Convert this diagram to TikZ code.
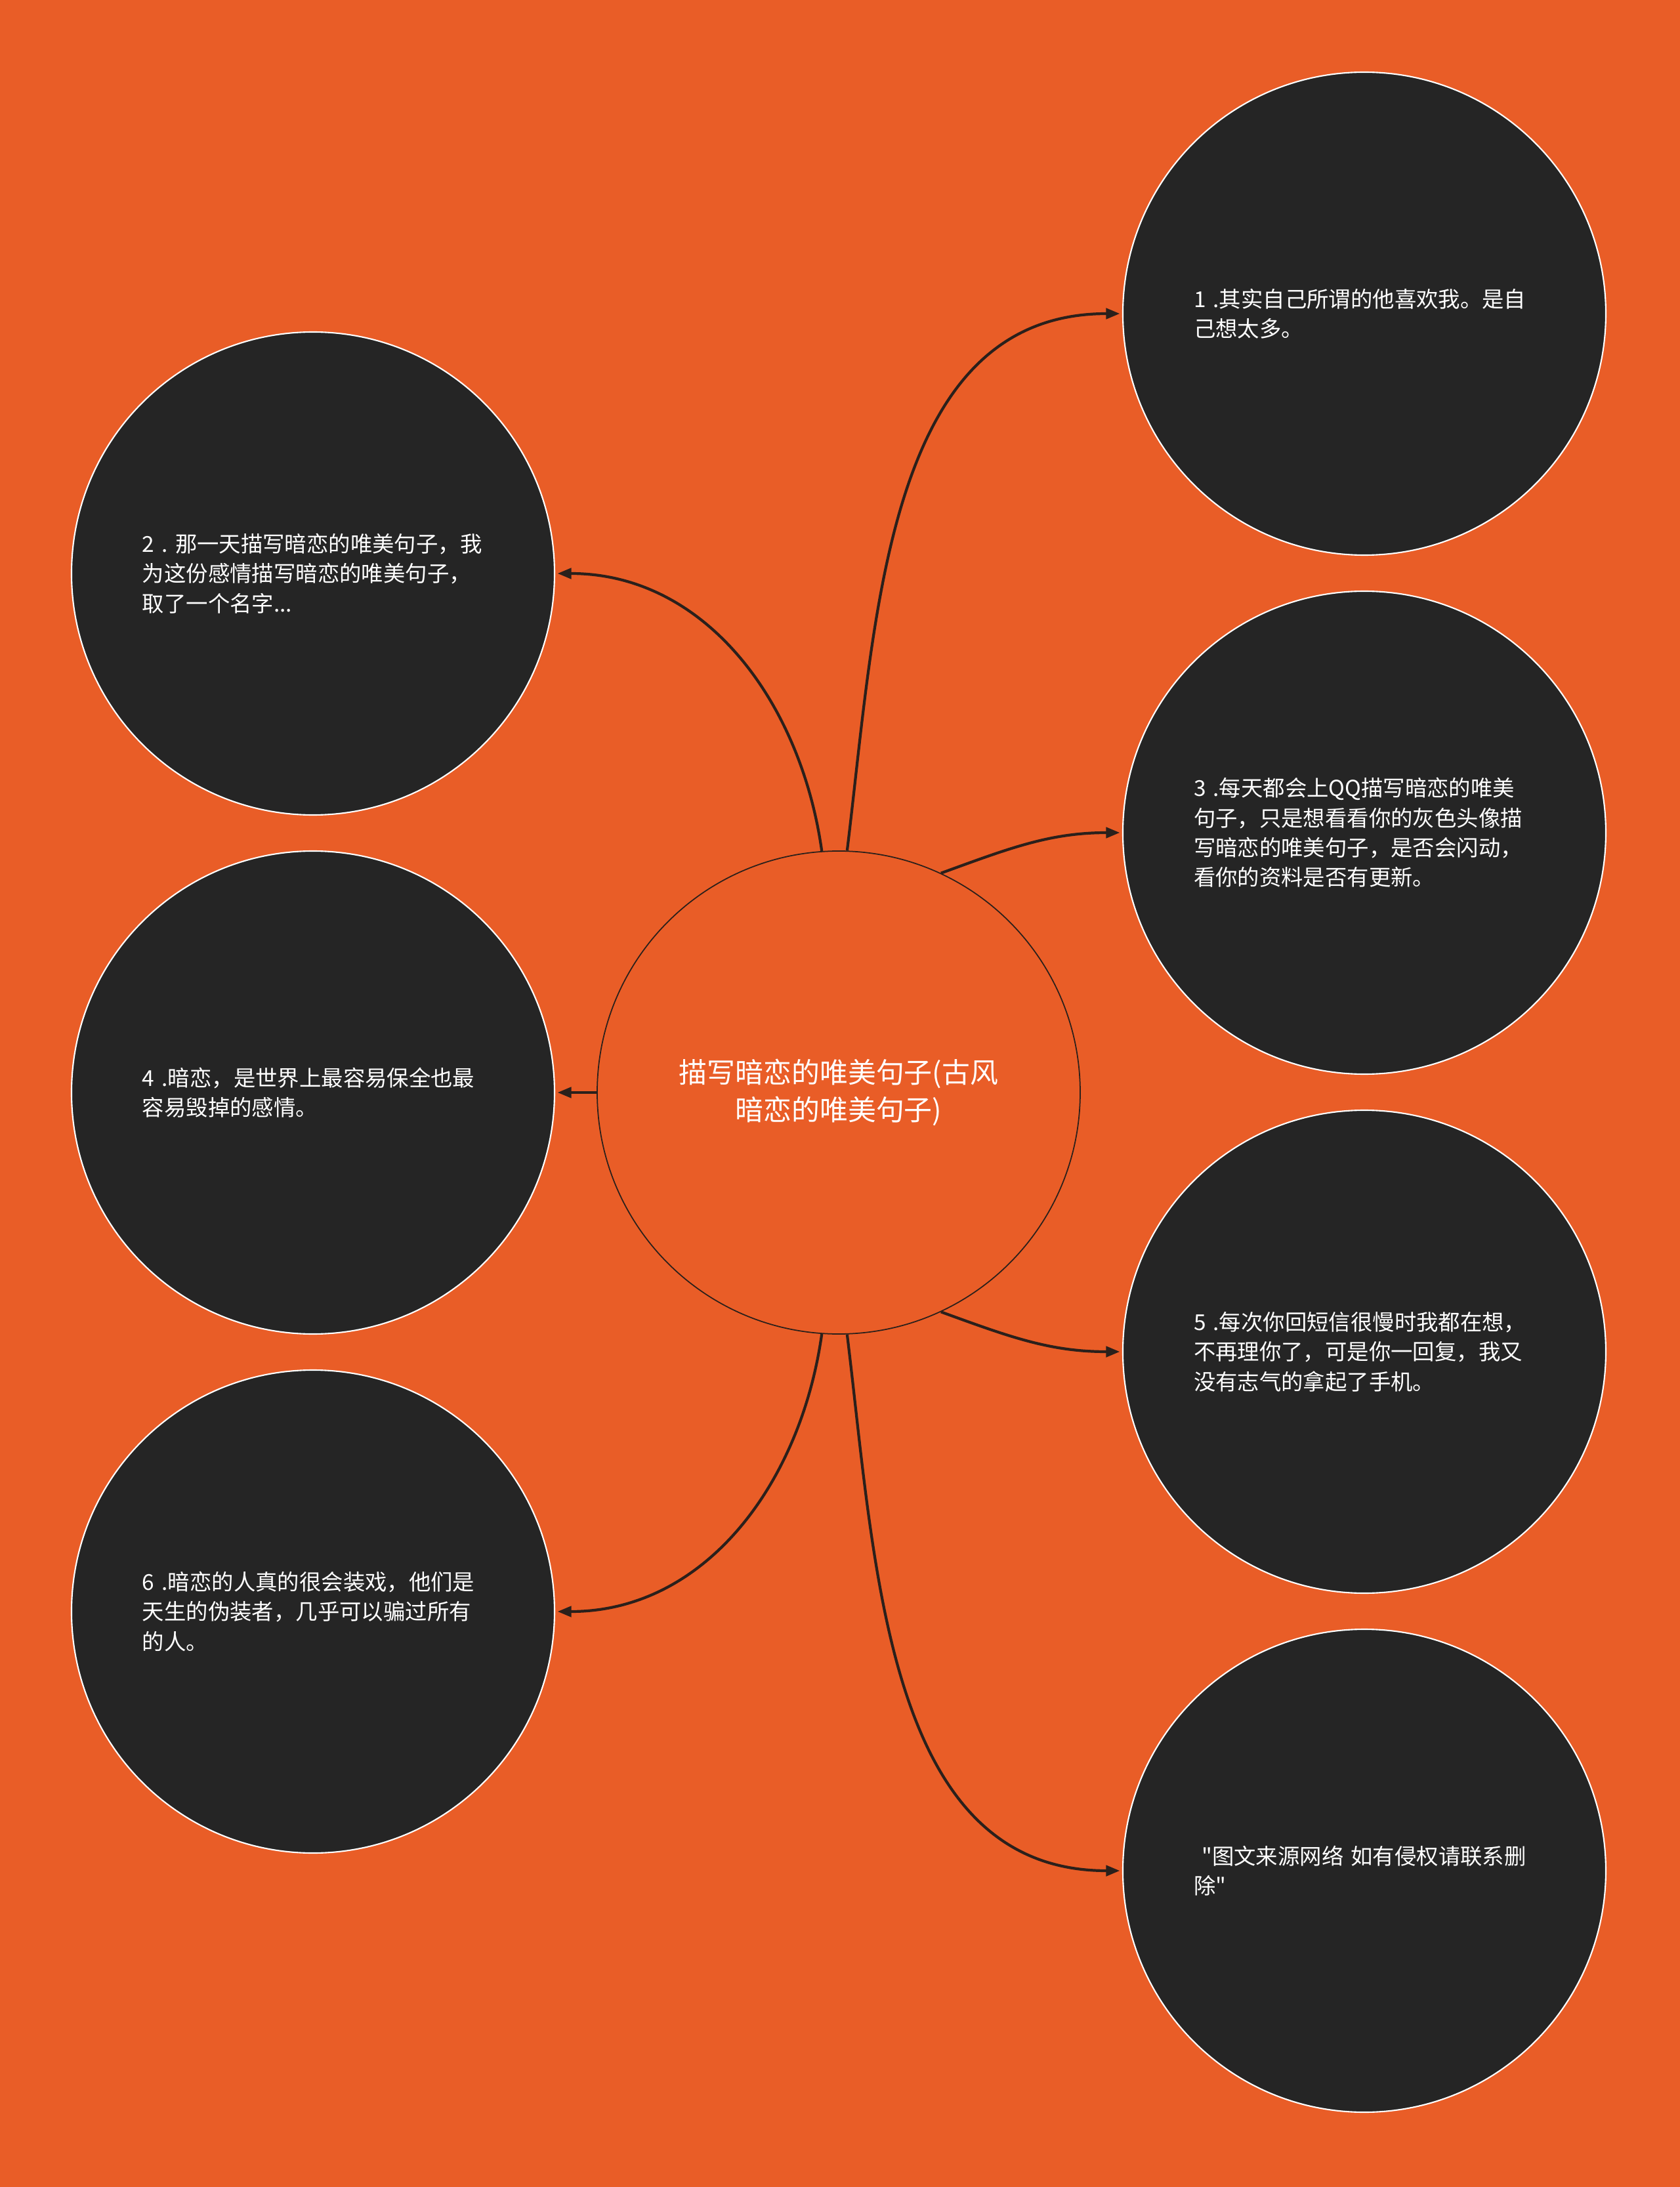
\documentclass[tikz,border=0pt]{standalone}
\usepackage{fontspec}
\setmainfont{Noto Sans CJK SC}[Ligatures=TeXOff]
\usetikzlibrary{arrows.meta}
\definecolor{bg}{HTML}{E95D27}
\definecolor{ink}{HTML}{252525}
\definecolor{wire}{HTML}{2B201B}
\tikzset{
    topic/.style =  {circle,
                    fill=bg,
                    draw=wire,
                    text=white,
                    line width=0.5pt,
                    minimum size=7.36cm,
                    inner sep=0pt,
                    align=center,
                    font=\fontsize{12.2pt}{16.3pt}\selectfont},
    idea/.style =   {circle,
                    fill=ink,
                    draw=white,
                    text=white,
                    line width=0.6pt,
                    minimum size=7.36cm,
                    inner sep=0pt,
                    text width=5.2cm,
                    align=left,
                    font=\fontsize{9.5pt}{12.9pt}\selectfont},
    >={Triangle[length=6pt,width=4.6pt]},
    shorten >= 1pt,
    node distance=7.91cm}

\begin{document}
\begin{tikzpicture}
                \fill[bg] (-12.78,16.65) rectangle (12.82,-16.68);
                \node[topic]    (C)  []                  {描写暗恋的唯美句子(古风\\暗恋的唯美句子)};
                \node[idea]     (n4) [left of=C, node distance=8.01cm] {4~.暗恋，是世界上最容易保全也最\\容易毁掉的感情。};
                \node[idea]     (n2) [above of=n4]       {2~.~那一天描写暗恋的唯美句子，我\\为这份感情描写暗恋的唯美句子，\\取了一个名字...};
                \node[idea]     (n6) [below of=n4]       {6~.暗恋的人真的很会装戏，他们是\\天生的伪装者，几乎可以骗过所有\\的人。};
                \node[idea]     (n3) at (8.01,3.96)      {3~.每天都会上QQ描写暗恋的唯美\\句子，只是想看看你的灰色头像描\\写暗恋的唯美句子，是否会闪动，\\看你的资料是否有更新。};
                \node[idea]     (n1) [above of=n3]       {1~.其实自己所谓的他喜欢我。是自\\己想太多。};
                \node[idea]     (n5) [below of=n3]       {5~.每次你回短信很慢时我都在想，\\不再理你了，可是你一回复，我又\\没有志气的拿起了手机。};
                \node[idea]     (n7) [below of=n5]       {\hspace*{3.5pt}"图文来源网络~如有侵权请联系删\\除"};
                \path [->, line width=1.2pt, color=wire]
                                (C.88)  edge [out=83,in=180]   (n1.west)
                                (C.65)  edge [out=20,in=180]   (n3.west)
                                (C.-65) edge [out=-20,in=180]  (n5.west)
                                (C.-88) edge [out=-83,in=180]  (n7.west)
                                (C.94)  edge [out=98,in=0]     (n2.east)
                                (C.west) edge                  (n4.east)
                                (C.-94) edge [out=-98,in=0]    (n6.east);
        \end{tikzpicture}
\end{document}
